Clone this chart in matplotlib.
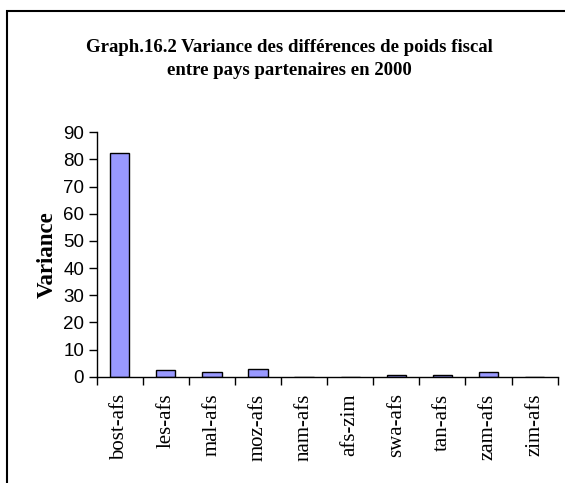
import numpy as np
import matplotlib.pyplot as plt
from matplotlib.patches import Rectangle

pairs = ['bost-afs', 'les-afs', 'mal-afs', 'moz-afs', 'nam-afs',
         'afs-zim', 'swa-afs', 'tan-afs', 'zam-afs', 'zim-afs']
variance = [82.3, 2.4, 1.8, 3.0, 0.0, 0.0, 0.6, 0.5, 1.8, 0.0]
yticks = [0, 10, 20, 30, 40, 50, 60, 70, 80, 90]

fig = plt.figure(figsize=(5.65, 4.83), dpi=100)
ax = fig.add_axes([0.171, 0.220, 0.816, 0.506])

x = np.arange(len(pairs))
ax.bar(x, variance, width=0.42, color='#9999FF', edgecolor='black', linewidth=1.0)

ax.set_xlim(-0.5, len(pairs) - 0.5)
ax.set_ylim(0, 90)
ax.set_yticks(yticks)
ax.set_yticklabels([str(v) for v in yticks], family='Liberation Sans', fontsize=13.5)
ax.set_xticks(np.arange(len(pairs) + 1) - 0.5, minor=False)
ax.set_xticklabels([])
ax.set_xticks(x, minor=True)
ax.set_xticklabels(pairs, minor=True, rotation=90, family='Liberation Serif', fontsize=15)
ax.tick_params(axis='x', which='minor', length=0, pad=12)
ax.tick_params(axis='x', which='major', length=6, direction='out', width=1)
ax.tick_params(axis='y', length=6, direction='out', width=1, pad=3)

for s in ['top', 'right']:
    ax.spines[s].set_visible(False)
for s in ['left', 'bottom']:
    ax.spines[s].set_linewidth(1)

ax.set_ylabel('Variance', family='Liberation Serif', fontweight='bold', fontsize=16.5, labelpad=4)

fig.text(0.513, 0.878, 'Graph.16.2 Variance des différences de poids fiscal\nentre pays partenaires en 2000',
         ha='center', va='center', family='Liberation Serif', fontweight='bold',
         fontsize=13.5, linespacing=1.5)

# chart area border (runs off the right and bottom of the image)
fig.patches.append(Rectangle((7 / 565, -0.05), 1.1, 1 - 11 / 483 + 0.05,
                             transform=fig.transFigure, fill=False,
                             edgecolor='black', linewidth=1.5))

fig.savefig('out.png', dpi=100)
